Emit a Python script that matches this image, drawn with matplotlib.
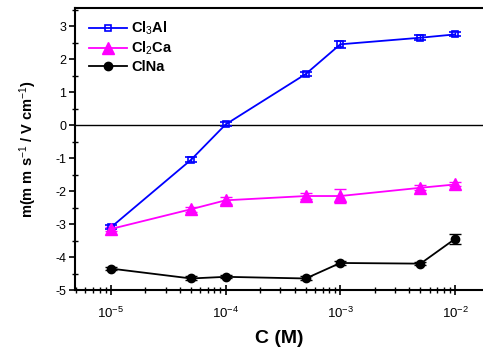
import matplotlib
matplotlib.use("Agg")
import matplotlib.pyplot as plt
import numpy as np
from matplotlib.ticker import LogLocator, MultipleLocator, NullFormatter, FuncFormatter
from matplotlib.lines import Line2D

plt.rcParams['font.family'] = ['Liberation Sans', 'DejaVu Sans']
plt.rcParams['axes.unicode_minus'] = False
plt.rcParams['mathtext.fontset'] = 'custom'
plt.rcParams['mathtext.rm'] = 'Liberation Sans'
plt.rcParams['mathtext.it'] = 'Liberation Sans'
plt.rcParams['mathtext.bf'] = 'Liberation Sans:bold'

conc = [1e-5, 5e-5, 1e-4, 5e-4, 1e-3, 5e-3, 1e-2]
al_vals = [-3.10, -1.05, 0.02, 1.55, 2.45, 2.65, 2.75]
al_err = [0.06, 0.08, 0.06, 0.07, 0.10, 0.08, 0.06]
ca_vals = [-3.15, -2.55, -2.28, -2.15, -2.15, -1.90, -1.80]
ca_err = [0.06, 0.08, 0.10, 0.08, 0.20, 0.07, 0.06]
na_vals = [-4.35, -4.65, -4.60, -4.65, -4.18, -4.20, -3.45]
na_err = [0.05, 0.06, 0.05, 0.06, 0.06, 0.05, 0.15]
labels = ['Cl$_3$Al', 'Cl$_2$Ca', 'ClNa']

fig = plt.figure(figsize=(4.83, 3.49), dpi=100)
ax = fig.add_axes([0.155, 0.169, 0.845, 0.808])

styles = [
    dict(color='#0000ff', marker='s', ms=5, mfc='none', mec='#0000ff', mew=1.2),
    dict(color='#ff00ff', marker='^', ms=8, mfc='#ff00ff', mec='#ff00ff'),
    dict(color='black', marker='o', ms=6, mfc='black', mec='black'),
]
handles = []
for vals, errs, st, lab in zip([al_vals, ca_vals, na_vals], [al_err, ca_err, na_err], styles, labels):
    ax.errorbar(conc, vals, yerr=errs, lw=1.3, capsize=4.5, elinewidth=1.0,
                capthick=1.0, zorder=3, **st)
    handles.append(Line2D([], [], lw=1.3, label=lab, **st))

ax.axhline(0, color='black', lw=1.0, zorder=2)

ax.set_xscale('log')
ax.set_xlim(4.85e-6, 1.754e-2)
ax.set_ylim(-5, 3.55)

ax.xaxis.set_major_locator(LogLocator(base=10, numticks=10))
ax.xaxis.set_major_formatter(FuncFormatter(lambda v, p: '10$^{%d}$' % int(round(np.log10(v)))))
ax.xaxis.set_minor_locator(LogLocator(base=10, subs=np.arange(2, 10), numticks=20))
ax.xaxis.set_minor_formatter(NullFormatter())
ax.yaxis.set_major_locator(MultipleLocator(1))
ax.yaxis.set_minor_locator(MultipleLocator(0.5))

ax.tick_params(axis='both', which='major', direction='out', length=4, width=1.2,
               labelsize=9, pad=2)
ax.tick_params(axis='x', which='major', direction='inout', length=7, pad=8, labelsize=9.5)
ax.tick_params(axis='both', which='minor', direction='inout', length=4, width=1.0)

for s in ['left', 'bottom', 'top']:
    ax.spines[s].set_linewidth(1.5)
ax.spines['right'].set_visible(False)

ax.set_xlabel('C (M)', fontsize=14, fontweight='bold', labelpad=6)
ax.set_ylabel('m(m m s$^{-1}$ / V cm$^{-1}$)', fontsize=10.5, labelpad=12)
ax.yaxis.label.set_fontweight('bold')

ax.legend(handles=handles, loc='upper left', frameon=False,
          prop={'weight': 'bold', 'size': 10.5}, handlelength=2.6,
          borderaxespad=0.3, labelspacing=0.2, handletextpad=0.3,
          bbox_to_anchor=(0.01, 0.995))

fig.savefig('out.png', dpi=100)
